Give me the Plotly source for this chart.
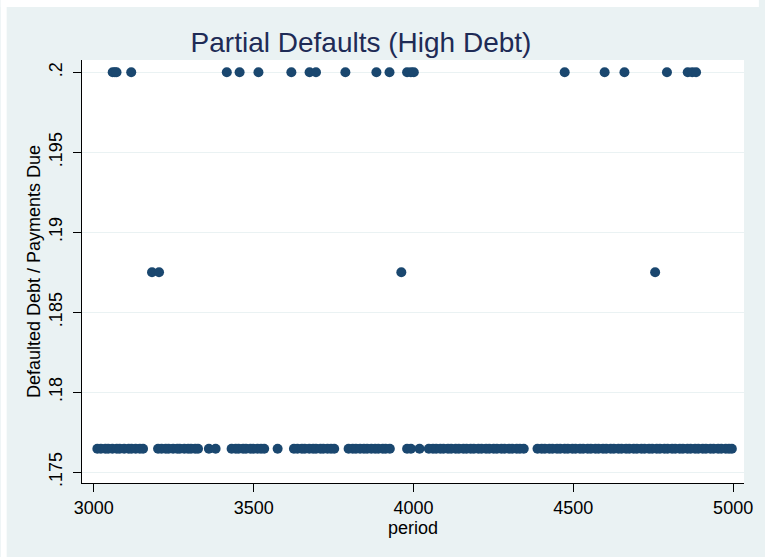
import plotly.graph_objects as go

# Periods with a partial default, grouped by the haircut share
periods_high = [3059, 3066, 3071, 3117, 3416, 3456, 3515, 3618, 3675, 3695, 3787,
                3884, 3925, 3980, 3992, 4001, 4473, 4598, 4660, 4793, 4858, 4872, 4884]
share_high = [0.2] * len(periods_high)

periods_mid = [3182, 3204, 3962, 4756]
share_mid = [0.1875] * len(periods_mid)

periods_low = [3011, 3022, 3036, 3045, 3058, 3072, 3081, 3095, 3109, 3118, 3131, 3144, 3154,
               3201, 3212, 3225, 3234, 3248, 3261, 3269, 3283, 3295, 3304, 3317, 3326,
               3360, 3381,
               3431, 3444, 3453, 3467, 3476, 3490, 3499, 3512, 3523, 3533,
               3575,
               3626, 3637, 3651, 3660, 3674, 3686, 3695, 3709, 3718, 3731, 3742, 3752,
               3797, 3810, 3820, 3833, 3845, 3855, 3868, 3880, 3890, 3904, 3913, 3926,
               3980, 3992, 4019,
               4048, 4061, 4071, 4084, 4094, 4108, 4118, 4132, 4142, 4156, 4166, 4179,
               4189, 4203, 4213, 4227, 4237, 4251, 4261, 4275, 4285, 4299, 4309, 4323,
               4333, 4345,
               4388, 4401, 4411, 4425, 4435, 4449, 4459, 4473, 4483, 4497, 4507, 4521,
               4531, 4545, 4555, 4569, 4579, 4593, 4603, 4617, 4627, 4641, 4651, 4665,
               4675, 4689, 4699, 4713, 4723, 4737, 4747, 4761, 4771, 4785, 4795, 4809,
               4819, 4833, 4843, 4857, 4867, 4881, 4891, 4905, 4915, 4929, 4939, 4953,
               4963, 4977, 4987, 4996]
share_low = [0.17647] * len(periods_low)

x_ticks = [3000, 3500, 4000, 4500, 5000]
y_ticks = [0.175, 0.18, 0.185, 0.19, 0.195, 0.2]
y_ticktext = [".175", ".18", ".185", ".19", ".195", ".2"]

periods = periods_high + periods_mid + periods_low
shares = share_high + share_mid + share_low

FONT = "Liberation Sans, Arial, sans-serif"
NAVY = "#1A476F"
BG = "#EAF2F3"

W, H = 765, 557
ML, MR, MT, MB = 82, 15, 60, 74
PW, PH = W - ML - MR, H - MT - MB

fig = go.Figure(go.Scatter(
    x=periods, y=shares, mode="markers",
    marker=dict(color=NAVY, size=10, line=dict(width=0)),
    showlegend=False,
))

# thin white border on the outer left and top edges of the graph region
def px_x(px):
    return (px - ML) / PW

def px_y(py):
    return (H - MB - py) / PH

fig.add_shape(type="rect", xref="paper", yref="paper",
              x0=px_x(0), x1=px_x(6), y0=px_y(H), y1=px_y(0),
              fillcolor="white", line=dict(width=0))
fig.add_shape(type="rect", xref="paper", yref="paper",
              x0=px_x(0), x1=px_x(W), y0=px_y(7), y1=px_y(0),
              fillcolor="white", line=dict(width=0))

fig.update_layout(
    width=W, height=H,
    margin=dict(l=ML, r=MR, t=MT, b=MB, pad=0),
    paper_bgcolor=BG, plot_bgcolor="white",
    font=dict(family=FONT, size=18, color="black"),
    title=dict(text="Partial Defaults (High Debt)", x=361 / W, xanchor="center",
               y=1 - 42 / H, yanchor="middle", xref="container", yref="container",
               font=dict(family=FONT, size=28, color="#1E2B56")),
    xaxis=dict(range=[2963, 5034], tickvals=x_ticks, showgrid=False, zeroline=False,
               showline=True, linecolor="black", linewidth=1,
               ticks="outside", ticklen=8, tickcolor="black",
               tickfont=dict(size=18),
               title=dict(text="period", font=dict(size=18), standoff=0)),
    yaxis=dict(range=[0.17433, 0.20077], tickvals=y_ticks, ticktext=y_ticktext,
               tickangle=-90, showgrid=True, gridcolor=BG, gridwidth=1,
               zeroline=False, showline=True, linecolor="black", linewidth=1,
               ticks="outside", ticklen=8, tickcolor="black",
               tickfont=dict(size=18), ticklabelstandoff=4,
               title=dict(text="Defaulted Debt / Payments Due", font=dict(size=18),
                          standoff=0)),
)

fig.write_html("out.html")
